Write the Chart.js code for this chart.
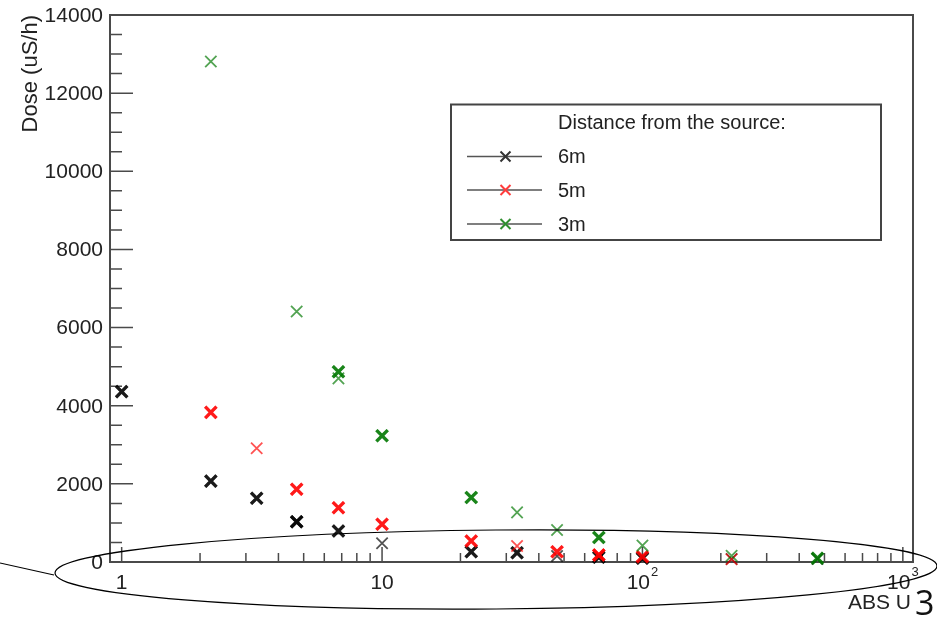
<!DOCTYPE html>
<html>
<head>
<meta charset="utf-8">
<script src="https://cdn.jsdelivr.net/npm/chart.js@4/dist/chart.umd.min.js"></script>
<style>
  html, body { margin: 0; padding: 0; background: #ffffff; }
  #wrap { width: 937px; height: 624px; }
</style>
</head>
<body>
<div id="wrap"><canvas id="c" width="937" height="624"></canvas></div>
<script>
// Measured dose vs. ABS U at three source distances.
// Repeated entries are repeated measurements at the same setting.
const absU6m = [1, 1, 2.2, 2.2, 3.3, 3.3, 4.7, 4.7, 4.7, 6.8, 6.8, 10, 22, 22, 33, 33, 47, 68, 68, 100, 100, 220, 470];
const dose6m = [4360, 4360, 2070, 2070, 1630, 1630, 1030, 1030, 1030, 794, 794, 478, 264, 264, 238, 238, 154, 120, 120, 94, 94, 77, 80];

const absU5m = [2.2, 2.2, 3.3, 4.7, 4.7, 6.8, 6.8, 10, 10, 22, 22, 33, 47, 47, 68, 68, 68, 100, 100, 220];
const dose5m = [3830, 3830, 2910, 1860, 1860, 1390, 1390, 965, 965, 538, 538, 410, 264, 264, 180, 180, 180, 136, 136, 72];

const absU3m = [2.2, 4.7, 6.8, 6.8, 6.8, 10, 10, 22, 22, 33, 47, 68, 68, 100, 220, 470, 470];
const dose3m = [12810, 6410, 4870, 4870, 4700, 3230, 3230, 1650, 1650, 1270, 820, 625, 625, 420, 160, 95, 95];

const seriesLabels = ['6m', '5m', '3m'];
const legendTitle = 'Distance from the source:';

const yTicks = [0, 2000, 4000, 6000, 8000, 10000, 12000, 14000];
const xMajorTicks = [1, 10, 100, 1000];
const xTickLabels = ['1', '10', '10^2', '10^3'];
const yTitle = 'Dose (uS/h)';
const xTitle = 'ABS U';
const noteText = '3';

const FONT = '"Liberation Sans", Arial, Helvetica, sans-serif';
const frameColor = '#4a4a4a';
const textColor = '#222222';
const seriesColors = ['rgba(0,0,0,0.68)', 'rgba(255,0,0,0.68)', 'rgba(0,120,0,0.68)'];
const legendColors = ['#333333', '#ff3b3b', '#2f8f2f'];

function points(xs, ys) {
  return xs.map((v, i) => ({ x: v, y: ys[i] }));
}

// repeated measurements overlap and read as heavier marks
function markWidth(ctx) {
  const raw = ctx.raw;
  if (!raw) return 1.8;
  const data = ctx.dataset.data;
  let n = 0;
  for (const p of data) if (p.x === raw.x && p.y === raw.y) n++;
  return n > 1 ? 3.2 : 1.8;
}

function crossMark(ctx, cx, cy, half, color, width) {
  ctx.save();
  ctx.strokeStyle = color;
  ctx.lineWidth = width;
  ctx.beginPath();
  ctx.moveTo(cx - half, cy - half); ctx.lineTo(cx + half, cy + half);
  ctx.moveTo(cx + half, cy - half); ctx.lineTo(cx - half, cy + half);
  ctx.stroke();
  ctx.restore();
}

const rootFrame = {
  id: 'rootFrame',
  beforeDatasetsDraw(chart) {
    const { ctx, chartArea: a, scales: { x, y } } = chart;
    ctx.save();
    ctx.strokeStyle = frameColor;
    ctx.lineWidth = 1.5;
    ctx.beginPath();
    // y ticks: major at labelled values, four minor divisions between
    const yMax = yTicks[yTicks.length - 1];
    const yStep = (yTicks[1] - yTicks[0]) / 4;
    for (let v = 0; v <= yMax + 1e-6; v += yStep) {
      const py = y.getPixelForValue(v);
      const major = yTicks.includes(v);
      ctx.moveTo(a.left, py);
      ctx.lineTo(a.left + (major ? 23 : 12), py);
    }
    // x ticks: decades and their 2..9 subdivisions
    for (const d of xMajorTicks) {
      const px = x.getPixelForValue(d);
      ctx.moveTo(px, a.bottom);
      ctx.lineTo(px, a.bottom - 15);
      for (let k = 2; k <= 9; k++) {
        const v = d * k;
        if (v > x.max) break;
        const pk = x.getPixelForValue(v);
        ctx.moveTo(pk, a.bottom);
        ctx.lineTo(pk, a.bottom - 9);
      }
    }
    ctx.stroke();
    ctx.lineWidth = 2;
    ctx.strokeRect(a.left, a.top, a.right - a.left, a.bottom - a.top);
    ctx.restore();
  },
  afterDraw(chart) {
    const { ctx, chartArea: a, scales: { x, y } } = chart;
    ctx.save();
    ctx.fillStyle = textColor;

    // y tick labels
    ctx.font = '21px ' + FONT;
    ctx.textAlign = 'right';
    ctx.textBaseline = 'middle';
    yTicks.forEach(v => ctx.fillText(String(v), a.left - 7, y.getPixelForValue(v) + 1));

    // x tick labels, with powers of ten as superscripts
    const labelY = a.bottom + 21;
    xMajorTicks.forEach((v, i) => {
      const px = x.getPixelForValue(v);
      const parts = xTickLabels[i].split('^');
      ctx.font = '21px ' + FONT;
      const wBase = ctx.measureText(parts[0]).width;
      let wSup = 0;
      if (parts[1]) {
        ctx.font = '13px ' + FONT;
        wSup = ctx.measureText(parts[1]).width + 1;
      }
      const left = px - (wBase + wSup) / 2;
      ctx.textAlign = 'left';
      ctx.font = '21px ' + FONT;
      ctx.fillText(parts[0], left, labelY);
      if (parts[1]) {
        ctx.font = '13px ' + FONT;
        ctx.fillText(parts[1], left + wBase + 1, labelY - 11);
      }
    });

    // axis titles
    ctx.font = '21px ' + FONT;
    ctx.textAlign = 'right';
    ctx.fillText(xTitle, a.right - 2, a.bottom + 41);
    ctx.save();
    ctx.translate(31, a.top);
    ctx.rotate(-Math.PI / 2);
    ctx.textAlign = 'right';
    ctx.textBaseline = 'middle';
    ctx.font = '22px ' + FONT;
    ctx.fillText(yTitle, 0, 0);
    ctx.restore();

    // legend box
    const lx = 451, ly = 104.5, lw = 430, lh = 135.5;
    ctx.fillStyle = '#ffffff';
    ctx.fillRect(lx, ly, lw, lh);
    ctx.strokeStyle = '#444444';
    ctx.lineWidth = 2;
    ctx.strokeRect(lx, ly, lw, lh);
    ctx.fillStyle = textColor;
    ctx.font = '20px ' + FONT;
    ctx.textAlign = 'left';
    ctx.textBaseline = 'middle';
    ctx.fillText(legendTitle, 558, 123);
    const rows = [156.5, 190, 224];
    seriesLabels.forEach((lab, i) => {
      const ry = rows[i];
      ctx.strokeStyle = '#555555';
      ctx.lineWidth = 1.5;
      ctx.beginPath();
      ctx.moveTo(467, ry); ctx.lineTo(542, ry);
      ctx.stroke();
      crossMark(ctx, 505.5, ry, 5, legendColors[i], 2);
      ctx.fillStyle = textColor;
      ctx.fillText(lab, 558, ry + 1);
    });

    // hand-drawn outline around the horizontal axis
    ctx.strokeStyle = '#000000';
    ctx.lineWidth = 1.2;
    ctx.beginPath();
    ctx.ellipse(496, 569.5, 441, 39.5, -0.008, 0, Math.PI * 2);
    ctx.stroke();
    ctx.beginPath();
    ctx.moveTo(0, 563);
    ctx.lineTo(54, 575);
    ctx.stroke();

    ctx.fillStyle = '#111111';
    ctx.font = '34px "Open Sans", "Liberation Sans", sans-serif';
    ctx.textAlign = 'left';
    ctx.textBaseline = 'middle';
    ctx.fillText(noteText, 915, 605);
    ctx.restore();
  }
};

const datasetBase = {
  showLine: false,
  pointStyle: 'crossRot',
  pointRadius: 8,
  pointHoverRadius: 8,
  pointBorderWidth: markWidth,
  clip: false
};

new Chart(document.getElementById('c'), {
  type: 'scatter',
  data: {
    datasets: [
      Object.assign({ label: seriesLabels[0], data: points(absU6m, dose6m), borderColor: seriesColors[0], backgroundColor: seriesColors[0], order: 3 }, datasetBase),
      Object.assign({ label: seriesLabels[1], data: points(absU5m, dose5m), borderColor: seriesColors[1], backgroundColor: seriesColors[1], order: 2 }, datasetBase),
      Object.assign({ label: seriesLabels[2], data: points(absU3m, dose3m), borderColor: seriesColors[2], backgroundColor: seriesColors[2], order: 1 }, datasetBase)
    ]
  },
  options: {
    responsive: false,
    animation: false,
    devicePixelRatio: 1,
    layout: { padding: { left: 0, right: 24, top: 15, bottom: 0 } },
    plugins: { legend: { display: false }, tooltip: { enabled: false } },
    scales: {
      x: {
        type: 'logarithmic',
        min: 0.902,
        max: 1094,
        grid: { display: false },
        border: { display: false },
        ticks: { display: false },
        afterFit(s) { s.height = 62; }
      },
      y: {
        type: 'linear',
        min: 0,
        max: 14000,
        grid: { display: false },
        border: { display: false },
        ticks: { display: false },
        afterFit(s) { s.width = 110; }
      }
    }
  },
  plugins: [rootFrame]
});
</script>
</body>
</html>
